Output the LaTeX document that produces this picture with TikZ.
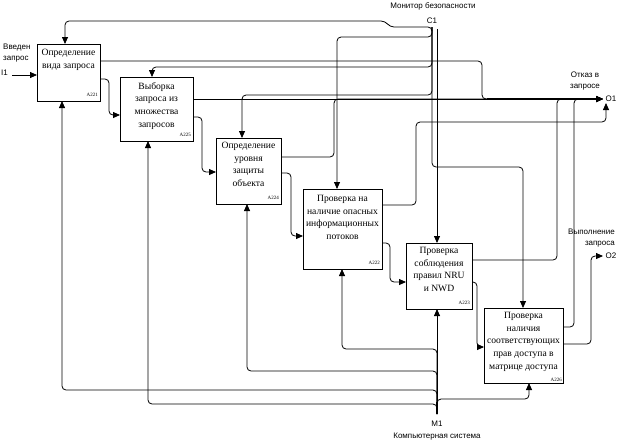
\documentclass[tikz,border=0pt]{standalone}
\usepackage{fontspec}
\setmainfont{Liberation Serif}
\newfontfamily\lsans{Liberation Sans}
\usetikzlibrary{arrows.meta,calc}
\begin{document}
\begin{tikzpicture}[x=1pt,y=-1pt,
  box/.style={draw, line width=0.8pt, inner sep=0pt, outer sep=0pt},
  btext/.style={anchor=north, inner sep=0pt, align=center, font=\fontsize{9.6}{12.7}\selectfont},
  bid/.style={anchor=south east, inner sep=0pt, font=\fontsize{5}{6}\selectfont},
  lbl/.style={inner sep=0pt, font=\lsans\fontsize{8}{10.5}\selectfont},
  arr/.style={draw, line width=0.8pt, rounded corners=4pt, -{Triangle[length=7pt,width=6pt]}},
]
\useasboundingbox[fill=white] (0,0) rectangle (617,445);

% boxes
\node[box, minimum width=63pt, minimum height=57pt] (b1) at (68.5,72.5) {};
\node[box, minimum width=73pt, minimum height=64pt] (b2) at (156.5,109) {};
\node[box, minimum width=65pt, minimum height=66pt] (b3) at (248.5,171) {};
\node[box, minimum width=79pt, minimum height=80pt] (b4) at (342.5,229) {};
\node[box, minimum width=66pt, minimum height=66pt] (b5) at (439,276) {};
\node[box, minimum width=79pt, minimum height=75pt] (b6) at (523.5,345.5) {};

\node[btext] (t1) at ($(b1.north)+(0,5)$) {Определение\\вида запроса};
\node[btext] (t2) at ($(b2.north)+(0,5)$) {Выборка\\запроса из\\множества\\запросов};
\node[btext] (t3) at ($(b3.north)+(0,4)$) {Определение\\уровня\\защиты\\объекта};
\node[btext] (t4) at ($(b4.north)+(0,6)$) {Проверка на\\наличие опасных\\информационных\\потоков};
\node[btext] (t5) at ($(b5.north)+(0,4)$) {Проверка\\соблюдения\\правил NRU\\и NWD};
\node[btext] (t6) at ($(b6.north)+(0,4)$) {Проверка\\наличия\\соответствующих\\прав доступа в\\матрице доступа};

\node[bid] (id1) at ($(b1.south east)+(-2,-4)$) {A221};
\node[bid] (id2) at ($(b2.south east)+(-2,-4)$) {A225};
\node[bid] (id3) at ($(b3.south east)+(-2,-4)$) {A224};
\node[bid] (id4) at ($(b4.south east)+(-2,-4)$) {A222};
\node[bid] (id5) at ($(b5.south east)+(-2,-4)$) {A223};
\node[bid] (id6) at ($(b6.south east)+(-1,-1)$) {A226};

% boundary points
\coordinate (I1) at (12,75);
\coordinate (C1) at (432,27);
\coordinate (C1r) at (437,29);
\coordinate (O1) at (603,99);
\coordinate (O1u) at (606,103);
\coordinate (O2) at (603,256);
\coordinate (M1) at (437,414);

% inputs
\draw[arr] (I1) -- ($(b1.north west)+(0,31)$);
\draw[arr] ($(b1.north east)+(0,35)$) -- (109,79) -- (109,115) -- ($(b2.north west)+(0,38)$);
\draw[arr] ($(b2.north east)+(0,40)$) -- (202,117) -- (202,172) -- ($(b3.north west)+(0,34)$);
\draw[arr] ($(b3.north east)+(0,35)$) -- (291,173) -- (291,236) -- ($(b4.north west)+(0,47)$);
\draw[arr] ($(b4.north east)+(0,54)$) -- (390,243) -- (390,282) -- ($(b5.north west)+(0,39)$);
\draw[arr] ($(b5.north east)+(0,39)$) -- (477,282) -- (477,347) -- ($(b6.north west)+(0,39)$);

% controls
\draw[arr] ($(C1)+(0,4)$) -- (C1) -- (390,27) -- (385,21) -- (65,21) -- ($(b1.north west)+(28,0)$);
\draw[arr] (C1) -- (432,37) -- (337,37) -- ($(b4.north west)+(34,0)$);
\draw[arr] (C1) -- (432,67) -- (152,67) -- ($(b2.north west)+(32,0)$);
\draw[arr] (C1) -- (432,95) -- (242,95) -- ($(b3.north west)+(26,0)$);
\draw[arr] (C1) -- (432,167) -- (523,167) -- ($(b6.north west)+(39,0)$);
\draw[arr] (C1r) -- ($(b5.north west)+(31,0)$);

% outputs
\draw[arr] ($(b1.north east)+(0,17)$) -- (482,61) -- (482,99) -- (O1);
\draw[arr] ($(b2.north east)+(0,22)$) -- (O1);
\draw[arr] ($(b3.north east)+(0,19)$) -- (334,157) -- (334,99) -- (O1);
\draw[arr] ($(b4.north east)+(0,16)$) -- (416,205) -- (416,122) -- (606,122) -- (O1u);
\draw[arr] ($(b5.north east)+(0,17)$) -- (557,260) -- (557,99) -- (O1);
\draw[arr] ($(b6.north east)+(0,19)$) -- (574,327) -- (574,99) -- (O1);
\draw[arr] ($(b6.north east)+(0,36)$) -- (591,344) -- (591,256) -- (O2);
\draw[line width=2.6pt] (487,99) -- (597,99);

% mechanisms
\draw[arr] (M1) -- ($(b5.south west)+(31,0)$);
\draw[arr] (M1) -- (437,390) -- (62,390) -- ($(b1.south west)+(25,0)$);
\draw[arr] (M1) -- (437,404) -- (148,404) -- ($(b2.south west)+(28,0)$);
\draw[arr] (M1) -- (437,371) -- (247,371) -- ($(b3.south west)+(31,0)$);
\draw[arr] (M1) -- (437,349) -- (342,349) -- ($(b4.south west)+(39,0)$);
\draw[arr] (M1) -- (437,399) -- (529,399) -- ($(b6.south west)+(45,0)$);
\draw[line width=2.6pt] (437,402) -- (M1);

% labels
\node[lbl] (lc1t) at (433,6) {Монитор безопасности};
\node[lbl] (lc1) at (432,21) {C1};
\node[lbl, align=left, anchor=west] (li1t) at (3,53) {Введен\\запрос};
\node[lbl, anchor=west] (li1) at (1,73) {I1};
\node[lbl, align=center] (lo1t) at (585,81) {Отказ в\\запросе};
\node[lbl] (lo1) at (611,99) {O1};
\node[lbl, align=right, anchor=east] (lo2t) at (615,238) {Выполнение\\запроса};
\node[lbl] (lo2) at (611,256) {O2};
\node[lbl] (lm1) at (437,424) {M1};
\node[lbl] (lm1t) at (437,437) {Компьютерная система};
\end{tikzpicture}
\end{document}
